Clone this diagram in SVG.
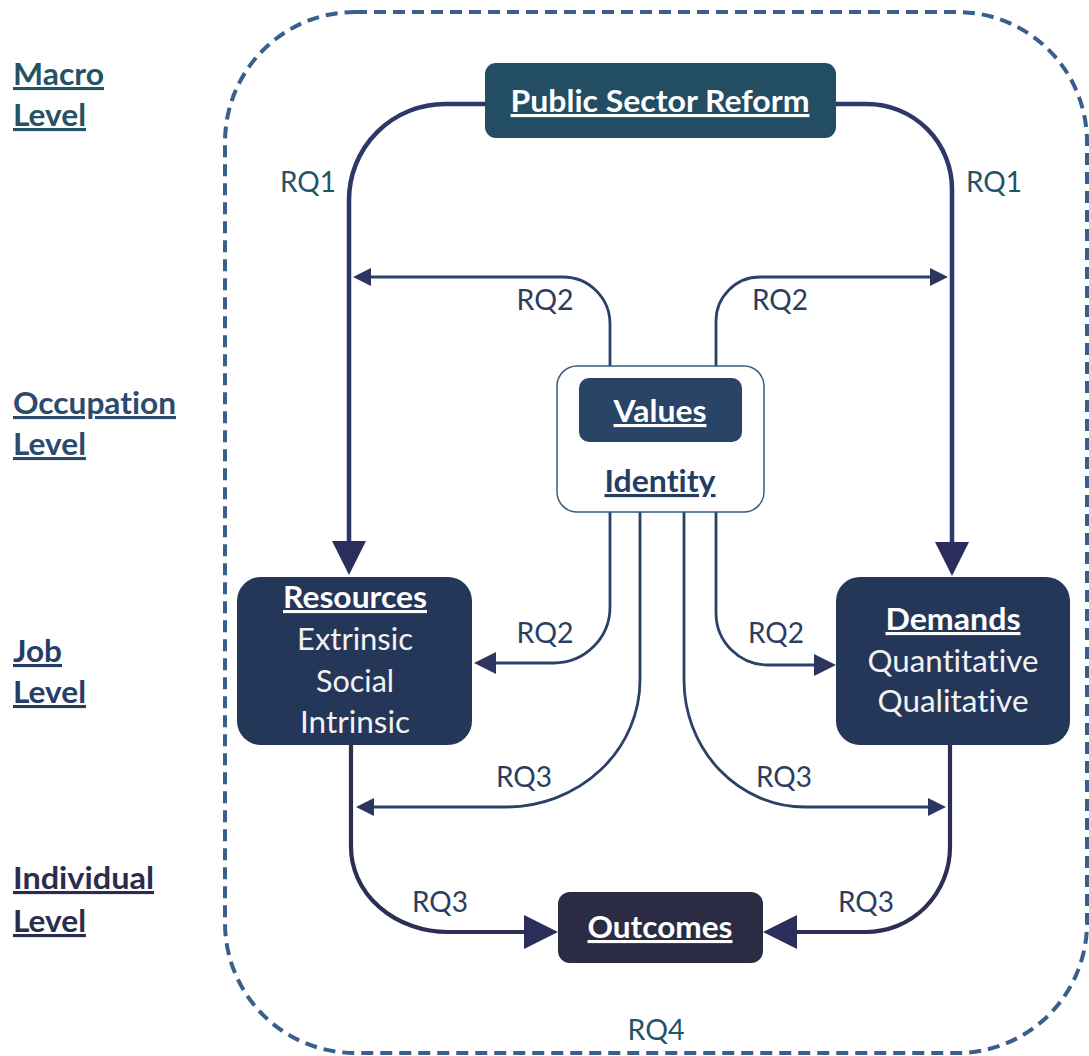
<svg xmlns="http://www.w3.org/2000/svg" width="1089" height="1056" viewBox="0 0 1089 1056">
<style>
text{font-variant-ligatures:none;font-feature-settings:"liga" 0,"clig" 0}
.lbl{font-family:Lato,"Open Sans","Liberation Sans",sans-serif;font-weight:700;font-size:31px;text-decoration:underline}
.node-title{font-family:Lato,"Open Sans","Liberation Sans",sans-serif;font-weight:700;font-size:31px;fill:#ffffff;text-anchor:middle;text-decoration:underline}
.node-item{font-family:Lato,"Open Sans","Liberation Sans",sans-serif;font-weight:400;font-size:30px;fill:#f2f2f2;text-anchor:middle}
.rq{font-family:Lato,"Open Sans","Liberation Sans",sans-serif;font-weight:400;font-size:28px;text-anchor:middle;fill:#2b3d60}
.rq-t{fill:#245366}
.thick{fill:none;stroke:#2d3868;stroke-width:4.5}
.thin{fill:none;stroke:#2c4168;stroke-width:2.8}
.out{fill:none;stroke:#2b2f55;stroke-width:4.2}
</style>
<defs>
<marker id="big" markerUnits="userSpaceOnUse" markerWidth="35" markerHeight="36" viewBox="0 -18 35 36" refX="0" refY="0" orient="auto"><path d="M0,-17 L34,0 L0,17 Z" fill="#2b2d5a"/></marker>
<marker id="med" markerUnits="userSpaceOnUse" markerWidth="24" markerHeight="24" viewBox="0 -12 24 24" refX="0" refY="0" orient="auto"><path d="M0,-11 L22,0 L0,11 Z" fill="#2b3560"/></marker>
<marker id="small" markerUnits="userSpaceOnUse" markerWidth="20" markerHeight="20" viewBox="0 -10 20 20" refX="0" refY="0" orient="auto"><path d="M0,-9 L18,0 L0,9 Z" fill="#2b3560"/></marker>
</defs>
<rect width="1089" height="1056" fill="#ffffff"/>
<rect id="boundary" x="225" y="12" width="862" height="1041" rx="130" ry="130" fill="none" stroke="#3a5f8c" stroke-width="4" stroke-dasharray="12 7"/>

<g id="levels">
<text class="lbl" x="13" y="85" fill="#245366" textLength="91" lengthAdjust="spacingAndGlyphs">Macro</text>
<text class="lbl" x="13" y="126" fill="#245366" textLength="73" lengthAdjust="spacingAndGlyphs">Level</text>
<text class="lbl" x="13" y="414" fill="#2b4a6e" textLength="163" lengthAdjust="spacingAndGlyphs">Occupation</text>
<text class="lbl" x="13" y="455" fill="#2b4a6e" textLength="73" lengthAdjust="spacingAndGlyphs">Level</text>
<text class="lbl" x="13" y="662" fill="#263d66" textLength="49" lengthAdjust="spacingAndGlyphs">Job</text>
<text class="lbl" x="13" y="703" fill="#263d66" textLength="73" lengthAdjust="spacingAndGlyphs">Level</text>
<text class="lbl" x="13" y="889" fill="#2b2d4f" textLength="141" lengthAdjust="spacingAndGlyphs">Individual</text>
<text class="lbl" x="13" y="932" fill="#2b2d4f" textLength="73" lengthAdjust="spacingAndGlyphs">Level</text>
</g>

<g id="connectors">
<path class="thick" d="M485,104 H445 A96,96 0 0 0 349,200 V541" marker-end="url(#big)"/>
<path class="thick" d="M836,104 H867 A85,85 0 0 1 952,189 V542" marker-end="url(#big)"/>
<path class="thin" d="M610,366 V324 A47,47 0 0 0 563,277 H371" marker-end="url(#small)"/>
<path class="thin" d="M716,366 V321 A44,44 0 0 1 760,277 H930" marker-end="url(#small)"/>
<path class="thin" d="M610,512 V607 A56,56 0 0 1 554,663 H496" marker-end="url(#med)"/>
<path class="thin" d="M716,512 V613 A52,52 0 0 0 768,665 H814" marker-end="url(#med)"/>
<path class="thin" d="M640,512 V680 A134,127 0 0 1 506,807 H374" marker-end="url(#small)"/>
<path class="thin" d="M684,512 V680 A121,127 0 0 0 805,807 H928" marker-end="url(#small)"/>
<path class="out" d="M351,745 V847 A97,85 0 0 0 448,932 H524" marker-end="url(#big)"/>
<path class="out" d="M950,745 V847 A84,85 0 0 1 866,932 H797" marker-end="url(#big)"/>
<text class="rq rq-t" x="308" y="192" textLength="56" lengthAdjust="spacingAndGlyphs">RQ1</text>
<text class="rq rq-t" x="994" y="192" textLength="56" lengthAdjust="spacingAndGlyphs">RQ1</text>
<text class="rq" x="545" y="310" textLength="57" lengthAdjust="spacingAndGlyphs">RQ2</text>
<text class="rq" x="780" y="310" textLength="56" lengthAdjust="spacingAndGlyphs">RQ2</text>
<text class="rq" x="545" y="643" textLength="57" lengthAdjust="spacingAndGlyphs">RQ2</text>
<text class="rq" x="776" y="643" textLength="56" lengthAdjust="spacingAndGlyphs">RQ2</text>
<text class="rq" x="524" y="787" textLength="56" lengthAdjust="spacingAndGlyphs">RQ3</text>
<text class="rq" x="784" y="787" textLength="56" lengthAdjust="spacingAndGlyphs">RQ3</text>
<text class="rq" x="440" y="912" textLength="56" lengthAdjust="spacingAndGlyphs">RQ3</text>
<text class="rq" x="866" y="912" textLength="56" lengthAdjust="spacingAndGlyphs">RQ3</text>
<text class="rq rq-t" x="656" y="1040" textLength="57" lengthAdjust="spacingAndGlyphs">RQ4</text>
</g>

<g id="reform">
<rect x="485" y="63" width="351" height="75" rx="11" fill="#234d63"/>
<text class="node-title" x="660" y="112" textLength="299" lengthAdjust="spacingAndGlyphs">Public Sector Reform</text>
</g>

<g id="identity">
<rect x="557" y="366" width="207" height="146" rx="20" fill="#ffffff" stroke="#3a5a80" stroke-width="1.5"/>
<text class="node-title" x="660" y="492" style="fill:#253d63" textLength="111" lengthAdjust="spacingAndGlyphs">Identity</text>
</g>

<g id="values">
<rect x="579" y="378" width="163" height="64" rx="10" fill="#284467"/>
<text class="node-title" x="660" y="422" textLength="93" lengthAdjust="spacingAndGlyphs">Values</text>
</g>

<g id="resources">
<rect x="237" y="577" width="235" height="168" rx="24" fill="#253759"/>
<text class="node-title" x="355" y="608" textLength="144" lengthAdjust="spacingAndGlyphs">Resources</text>
<text class="node-item" x="355" y="650" textLength="116" lengthAdjust="spacingAndGlyphs">Extrinsic</text>
<text class="node-item" x="355" y="692" textLength="78" lengthAdjust="spacingAndGlyphs">Social</text>
<text class="node-item" x="355" y="733" textLength="110" lengthAdjust="spacingAndGlyphs">Intrinsic</text>
</g>

<g id="demands">
<rect x="836" y="577" width="234" height="168" rx="24" fill="#253759"/>
<text class="node-title" x="953" y="630" textLength="135" lengthAdjust="spacingAndGlyphs">Demands</text>
<text class="node-item" x="953" y="672" textLength="171" lengthAdjust="spacingAndGlyphs">Quantitative</text>
<text class="node-item" x="953" y="712" textLength="151" lengthAdjust="spacingAndGlyphs">Qualitative</text>
</g>

<g id="outcomes">
<rect x="558" y="892" width="205" height="71" rx="12" fill="#2b2c44"/>
<text class="node-title" x="660" y="938" textLength="145" lengthAdjust="spacingAndGlyphs">Outcomes</text>
</g>
</svg>
